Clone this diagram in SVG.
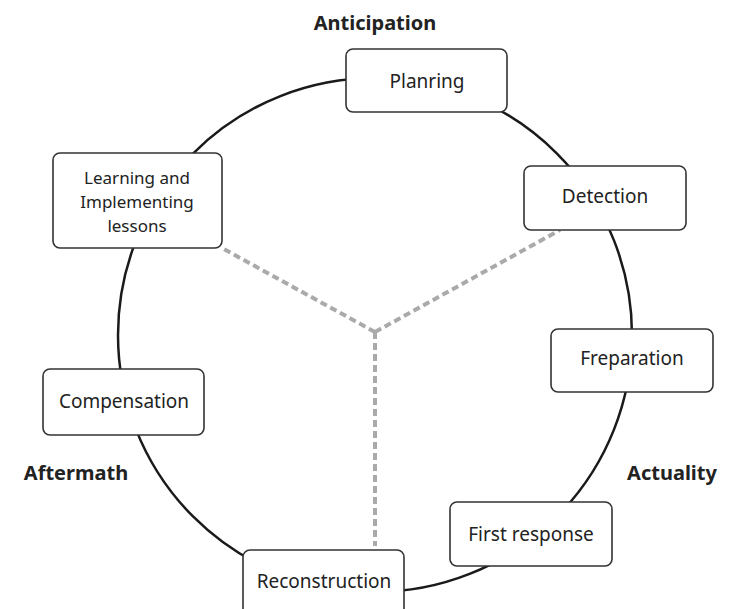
<svg xmlns="http://www.w3.org/2000/svg" width="729" height="609" viewBox="0 0 729 609">
<style>
.box{fill:#fff;stroke:#333;stroke-width:1.6}
.t{font-family:"Noto Sans","Open Sans",sans-serif;font-size:19px;fill:#222;text-anchor:middle}
.s{font-size:17px}
.h{font-family:"Noto Sans","Open Sans",sans-serif;font-size:20px;font-weight:bold;fill:#222;text-anchor:middle}
.ring{fill:none;stroke:#1a1a1a;stroke-width:2.5}
.dash{fill:none;stroke:#aaa;stroke-width:4;stroke-dasharray:7 4}
</style>
<rect width="729" height="609" fill="#fff"/>
<g id="connectors">
<circle class="ring" cx="375" cy="335" r="257"/>
<path class="dash" d="M375 332 L222 248 M375 332 L560 230 M375 332 L375 546"/>
</g>
<text class="h" x="375" y="30">Anticipation</text>
<text class="h" x="76" y="480">Aftermath</text>
<text class="h" x="672" y="480">Actuality</text>
<g id="planning"><rect class="box" x="346" y="49" width="161" height="63" rx="7"/><text class="t" x="427" y="88">Planring</text></g>
<g id="detection"><rect class="box" x="524" y="166" width="162" height="64" rx="7"/><text class="t" x="605" y="203">Detection</text></g>
<g id="preparation"><rect class="box" x="551" y="329" width="162" height="63" rx="7"/><text class="t" x="632" y="365">Freparation</text></g>
<g id="first-response"><rect class="box" x="450" y="502" width="162" height="64" rx="7"/><text class="t" x="531" y="541">First response</text></g>
<g id="reconstruction"><rect class="box" x="243" y="550" width="161" height="66" rx="7"/><text class="t" x="324" y="588">Reconstruction</text></g>
<g id="compensation"><rect class="box" x="43" y="369" width="161" height="66" rx="7"/><text class="t" x="124" y="408">Compensation</text></g>
<g id="learning"><rect class="box" x="53" y="153" width="169" height="95" rx="7"/><text class="t s" x="137" y="184">Learning and</text><text class="t s" x="137" y="208">Implementing</text><text class="t s" x="137" y="232">lessons</text></g>
</svg>
